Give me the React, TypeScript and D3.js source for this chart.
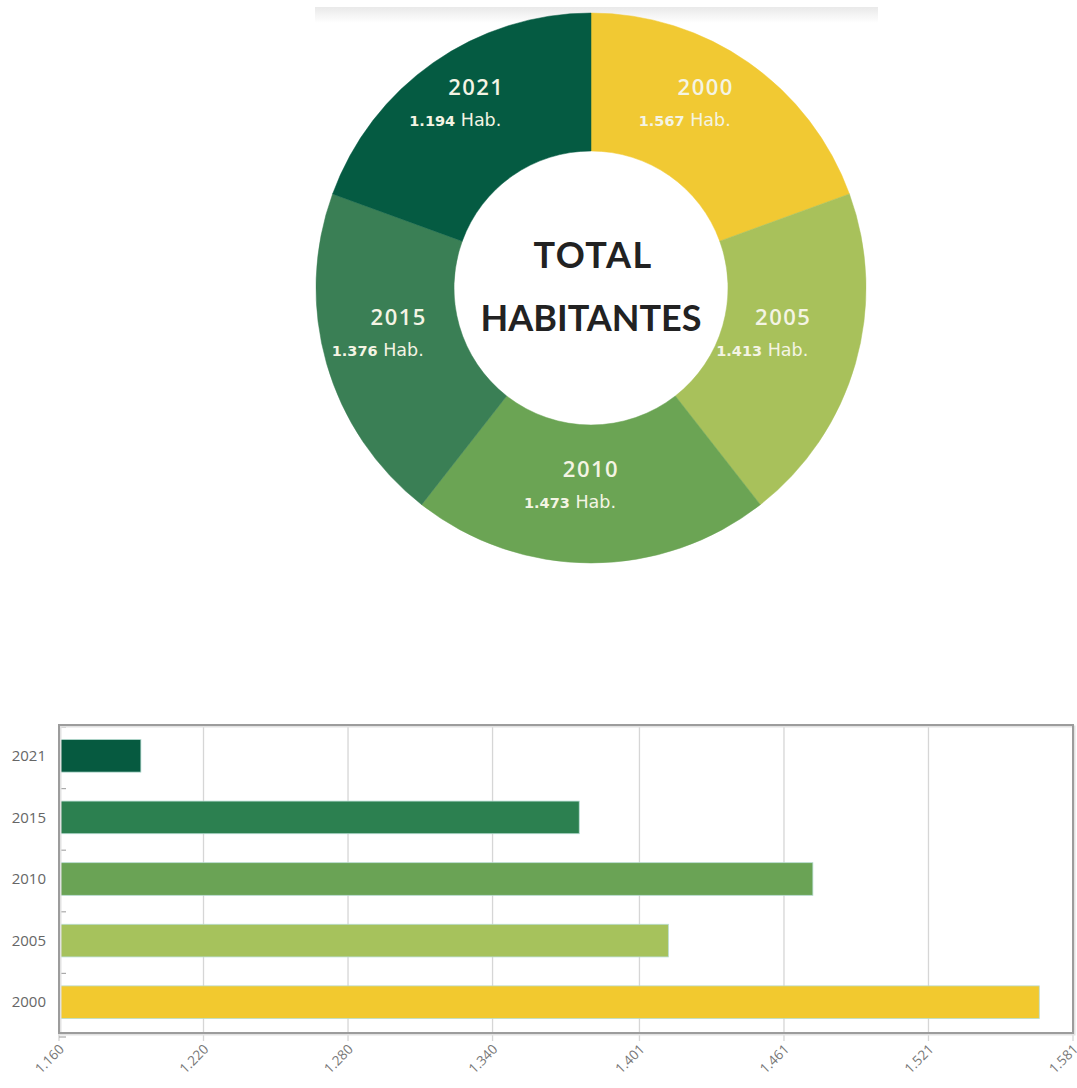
import React, { useRef, useEffect } from 'react';
import * as d3 from 'd3';

// Population (thousands of inhabitants) per census year
const years = ['2000', '2005', '2010', '2015', '2021'];
const population = [1.567, 1.413, 1.473, 1.376, 1.194];
// share of the ring each year occupies in the drawing (degrees)
const sliceShare = [70, 72, 76, 72, 70];
const donutColors = ['#f1c933', '#a8c15b', '#6ba454', '#3a7f55', '#055b42'];
const barColors = ['#f2c92f', '#a6c25c', '#6aa355', '#2c8050', '#065a40'];
const barOrder = ['2021', '2015', '2010', '2005', '2000'];
const xTickLabels = [1.16, 1.22, 1.28, 1.34, 1.401, 1.461, 1.521, 1.581];
const centerLines = ['TOTAL', 'HABITANTES'];

const fmt = d3.format('.3f');

const App: React.FC = () => {
  const svgRef = useRef<SVGSVGElement>(null);

  useEffect(() => {
    if (!svgRef.current) return;
    document.body.style.margin = '0';
    const svg = d3.select(svgRef.current);
    svg.selectAll('*').remove();

    const width = 1077;
    const height = 1088;
    svg.attr('width', width).attr('height', height);

    // faint grey strip above the donut
    const defs = svg.append('defs');
    const grad = defs
      .append('linearGradient')
      .attr('id', 'topfade')
      .attr('x1', 0)
      .attr('y1', 0)
      .attr('x2', 0)
      .attr('y2', 1);
    grad.append('stop').attr('offset', '0%').attr('stop-color', '#e9e9e9');
    grad.append('stop').attr('offset', '100%').attr('stop-color', '#ffffff');
    svg
      .append('rect')
      .attr('x', 315)
      .attr('y', 7)
      .attr('width', 563)
      .attr('height', 16)
      .attr('fill', 'url(#topfade)');

    // ---------- donut ----------
    const cx = 591;
    const cy = 288;
    const outerR = 275;
    const innerR = 137;

    const data = years.map((y, i) => ({
      year: y,
      value: population[i],
      share: sliceShare[i],
      color: donutColors[i],
    }));
    type D = (typeof data)[number];

    const pie = d3
      .pie<D>()
      .value((d) => d.share)
      .sort(null);

    const arc = d3.arc<d3.PieArcDatum<D>>().innerRadius(innerR).outerRadius(outerR);
    const labelArc = d3.arc<d3.PieArcDatum<D>>().innerRadius(200).outerRadius(200);

    const g = svg.append('g').attr('transform', `translate(${cx},${cy})`);
    const arcs = pie(data);

    g.selectAll('path.slice')
      .data(arcs)
      .enter()
      .append('path')
      .attr('class', 'slice')
      .attr('d', arc)
      .attr('fill', (d) => d.data.color)
      .attr('stroke', (d) => d.data.color)
      .attr('stroke-width', 0.5);

    // labels sit a little above each slice's centroid
    const labels = g
      .selectAll('g.lbl')
      .data(arcs)
      .enter()
      .append('g')
      .attr('class', 'lbl')
      .attr('transform', (d) => {
        const [x, y] = labelArc.centroid(d);
        return `translate(${x},${y * 1.05 - 29})`;
      });

    labels
      .append('text')
      .attr('text-anchor', 'middle')
      .attr('y', 8)
      .attr('fill', '#f4f4e4')
      .style('font-family', '"Open Sans", sans-serif')
      .style('font-weight', '600')
      .style('font-size', '22px')
      .style('letter-spacing', '1.5px')
      .text((d) => d.data.year);

    const val = labels
      .append('text')
      .attr('text-anchor', 'middle')
      .attr('x', -21)
      .attr('y', 39)
      .attr('fill', '#f4f4e4')
      .style('font-family', '"DejaVu Sans", Verdana, sans-serif');
    val
      .append('tspan')
      .style('font-weight', '700')
      .style('font-size', '14.5px')
      .text((d) => fmt(d.data.value));
    val
      .append('tspan')
      .style('font-size', '17.5px')
      .text(' Hab.');

    g.selectAll('text.center')
      .data(centerLines)
      .enter()
      .append('text')
      .attr('class', 'center')
      .attr('text-anchor', 'middle')
      .attr('x', (_d, i) => (i === 0 ? 2 : 0))
      .attr('y', (_d, i) => -20 + i * 63)
      .attr('fill', '#222')
      .style('font-family', 'Lato, sans-serif')
      .style('font-weight', '700')
      .style('font-size', '36px')
      .style('letter-spacing', (_d, i) => (i === 0 ? '1.5px' : '0px'))
      .text((d) => d);

    // ---------- horizontal bar chart ----------
    const left = 59;
    const right = 1073;
    const top = 725;
    const bottom = 1033;

    const x = d3
      .scaleLinear()
      .domain([xTickLabels[0], xTickLabels[xTickLabels.length - 1]])
      .range([left, right]);
    const y = d3
      .scaleBand<string>()
      .domain(barOrder)
      .range([top, bottom])
      .paddingInner(0.47)
      .paddingOuter(0.235);

    const chart = svg.append('g');

    // gridlines + bottom ticks
    chart
      .selectAll('line.grid')
      .data(xTickLabels.slice(1))
      .enter()
      .append('line')
      .attr('class', 'grid')
      .attr('x1', (d) => x(d))
      .attr('x2', (d) => x(d))
      .attr('y1', top)
      .attr('y2', bottom + 8)
      .attr('stroke', '#d6d6d6')
      .attr('stroke-width', 1.3);

    chart
      .append('line')
      .attr('x1', left)
      .attr('x2', left)
      .attr('y1', bottom)
      .attr('y2', bottom + 8)
      .attr('stroke', '#cfcfcf')
      .attr('stroke-width', 1.2);

    // bars
    chart
      .selectAll('rect.bar')
      .data(data)
      .enter()
      .append('rect')
      .attr('class', 'bar')
      .attr('x', left)
      .attr('y', (d) => y(d.year) as number)
      .attr('width', (d) => x(d.value) - left)
      .attr('height', y.bandwidth())
      .attr('fill', (d, i) => barColors[i])
      .attr('stroke', '#b7dcd2')
      .attr('stroke-width', 0.8);

    // left category ticks at band boundaries
    const boundaries = barOrder.map((c) => (y(c) as number) - (y.step() - y.bandwidth()) / 2);
    boundaries.push(bottom + 2);
    chart
      .selectAll('line.ytick')
      .data(boundaries)
      .enter()
      .append('line')
      .attr('class', 'ytick')
      .attr('x1', left)
      .attr('x2', left + 7)
      .attr('y1', (d) => d + 2)
      .attr('y2', (d) => d + 2)
      .attr('stroke', '#aaa')
      .attr('stroke-width', 1.2);

    // frame with soft shadow
    chart
      .append('rect')
      .attr('x', left + 1.5)
      .attr('y', top + 1.5)
      .attr('width', right - left)
      .attr('height', bottom - top)
      .attr('fill', 'none')
      .attr('stroke', '#e2e2e2')
      .attr('stroke-width', 2);
    chart
      .append('rect')
      .attr('x', left)
      .attr('y', top)
      .attr('width', right - left)
      .attr('height', bottom - top)
      .attr('fill', 'none')
      .attr('stroke', '#9c9c9c')
      .attr('stroke-width', 2);

    // category labels
    chart
      .selectAll('text.ylab')
      .data(barOrder)
      .enter()
      .append('text')
      .attr('class', 'ylab')
      .attr('x', 46)
      .attr('y', (d) => (y(d) as number) + y.bandwidth() / 2)
      .attr('dy', '0.35em')
      .attr('text-anchor', 'end')
      .attr('fill', '#666')
      .style('font-family', '"Open Sans", sans-serif')
      .style('font-size', '15px')
      .text((d) => d);

    // value tick labels, rotated
    chart
      .selectAll('text.xlab')
      .data(xTickLabels)
      .enter()
      .append('text')
      .attr('class', 'xlab')
      .attr('text-anchor', 'end')
      .attr('transform', (d) => `translate(${x(d) + 6},${bottom + 17}) rotate(-45)`)
      .attr('fill', '#777')
      .style('font-family', '"Open Sans", sans-serif')
      .style('font-size', '13.5px')
      .text((d) => fmt(d));
  }, []);

  return (
    <div style={{ position: 'absolute', left: 0, top: 0, background: '#fff' }}>
      <svg ref={svgRef} style={{ display: 'block' }} />
    </div>
  );
};

export default App;
